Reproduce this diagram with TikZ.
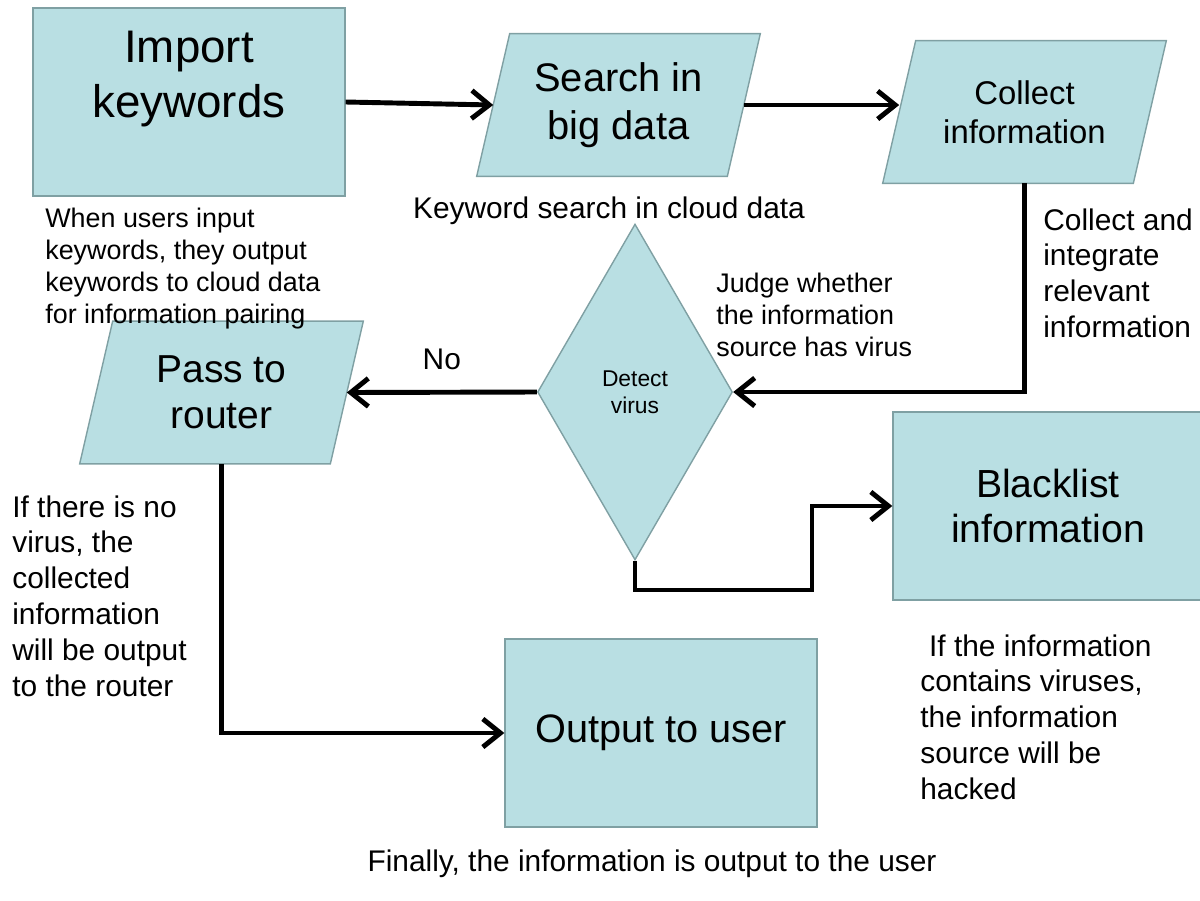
\documentclass[tikz,border=0pt]{standalone}
\usepackage{fontspec}
\setmainfont{Liberation Sans}
\usetikzlibrary{shapes.geometric,arrows.meta,backgrounds}
\definecolor{boxfill}{RGB}{185,223,227}
\definecolor{boxline}{RGB}{127,160,163}

\begin{document}
\begin{tikzpicture}[x=0.02cm,y=-0.02cm,
    box/.style={rectangle,draw=boxline,fill=boxfill,line width=0.8pt,minimum width=6.24cm,minimum height=3.76cm,align=center},
    para/.style={rectangle,minimum width=5cm,minimum height=2.84cm,align=center},
    paraside/.style={draw=boxline,fill=boxfill,line width=0.8pt},
    note/.style={anchor=north west,inner sep=0pt,align=left,font=\fontsize{17}{20.4}\selectfont},
    smallnote/.style={anchor=north west,inner sep=0pt,align=left,font=\fontsize{15.3}{18.1}\selectfont},
    arr/.style={line width=2.8pt,-{Straight Barb[length=10pt,width=16pt]}}]
  \useasboundingbox (0,0) rectangle (1200,900);

  % boxes
  \node[box,font=\fontsize{26}{31.2}\selectfont] (imp) at (189,102) {Import\\keywords\\\mbox{}};
  \node[para,font=\fontsize{22.7}{27.2}\selectfont] (srch) at (618.5,105) {Search in\\big data};
  \node[para,font=\fontsize{18.7}{22}\selectfont] (coll) at (1024.5,112) {Collect\\information};
  \node[diamond,draw=boxline,fill=boxfill,line width=0.8pt,minimum width=3.9cm,minimum height=6.72cm,align=center,font=\fontsize{13}{15.3}\selectfont] (det) at (635,392) {Detect\\virus};
  \node[para,font=\fontsize{22.2}{26}\selectfont] (pass) at (221.5,392.5) {Pass to\\router};
  \node[box,minimum width=6.2cm,font=\fontsize{22.3}{26}\selectfont] (black) at (1048,506) {Blacklist\\information};
  \node[box,font=\fontsize{22.6}{26}\selectfont] (out) at (661,733) {Output to user};

  % slanted sides of the data boxes
  \begin{scope}[on background layer]
    \foreach \p in {srch,coll,pass}
      \filldraw[paraside] ([xshift=0.33cm]\p.north west) -- ([xshift=0.33cm]\p.north east)
        -- ([xshift=-0.33cm]\p.south east) -- ([xshift=-0.33cm]\p.south west) -- cycle;
  \end{scope}

  % notes
  \node[smallnote] (n1) at (45,208) {When users input\\keywords, they output\\keywords to cloud data\\for information pairing};
  \node[anchor=base,inner sep=0pt,font=\fontsize{17}{20.4}\selectfont] (n2) at (609,218) {Keyword search in cloud data};
  \node[smallnote] (n3) at (716,273) {Judge whether\\the information\\source has virus};
  \node[note] (n4) at (1043,208) {Collect and\\integrate\\relevant\\information};
  \node[note] (n5) at (12,495) {If there is no\\virus, the\\collected\\information\\will be output\\to the router};
  \node[note] (n6) at (920,634) {\hspace{5pt}If the information\\contains viruses,\\the information\\source will be\\hacked};
  \node[anchor=base,inner sep=0pt,font=\fontsize{17}{20.4}\selectfont] (n7) at (652,871) {Finally, the information is output to the user};

  % connectors
  \coordinate (bend) at (812,590);
  \draw[arr] (imp.east) -- (srch.west);
  \draw[arr] (srch.east) -- (srch.east -| coll.west);
  \draw[arr] (coll.south) |- (det.east);
  \draw[arr] (det.west) -- node[midway,above=8pt,font=\fontsize{17}{20.4}\selectfont] (no) {No} (pass.east);
  \draw[arr] (pass.south) |- (out.west);
  \draw[arr] (det.south) |- (bend) |- (black.west);
\end{tikzpicture}
\end{document}
